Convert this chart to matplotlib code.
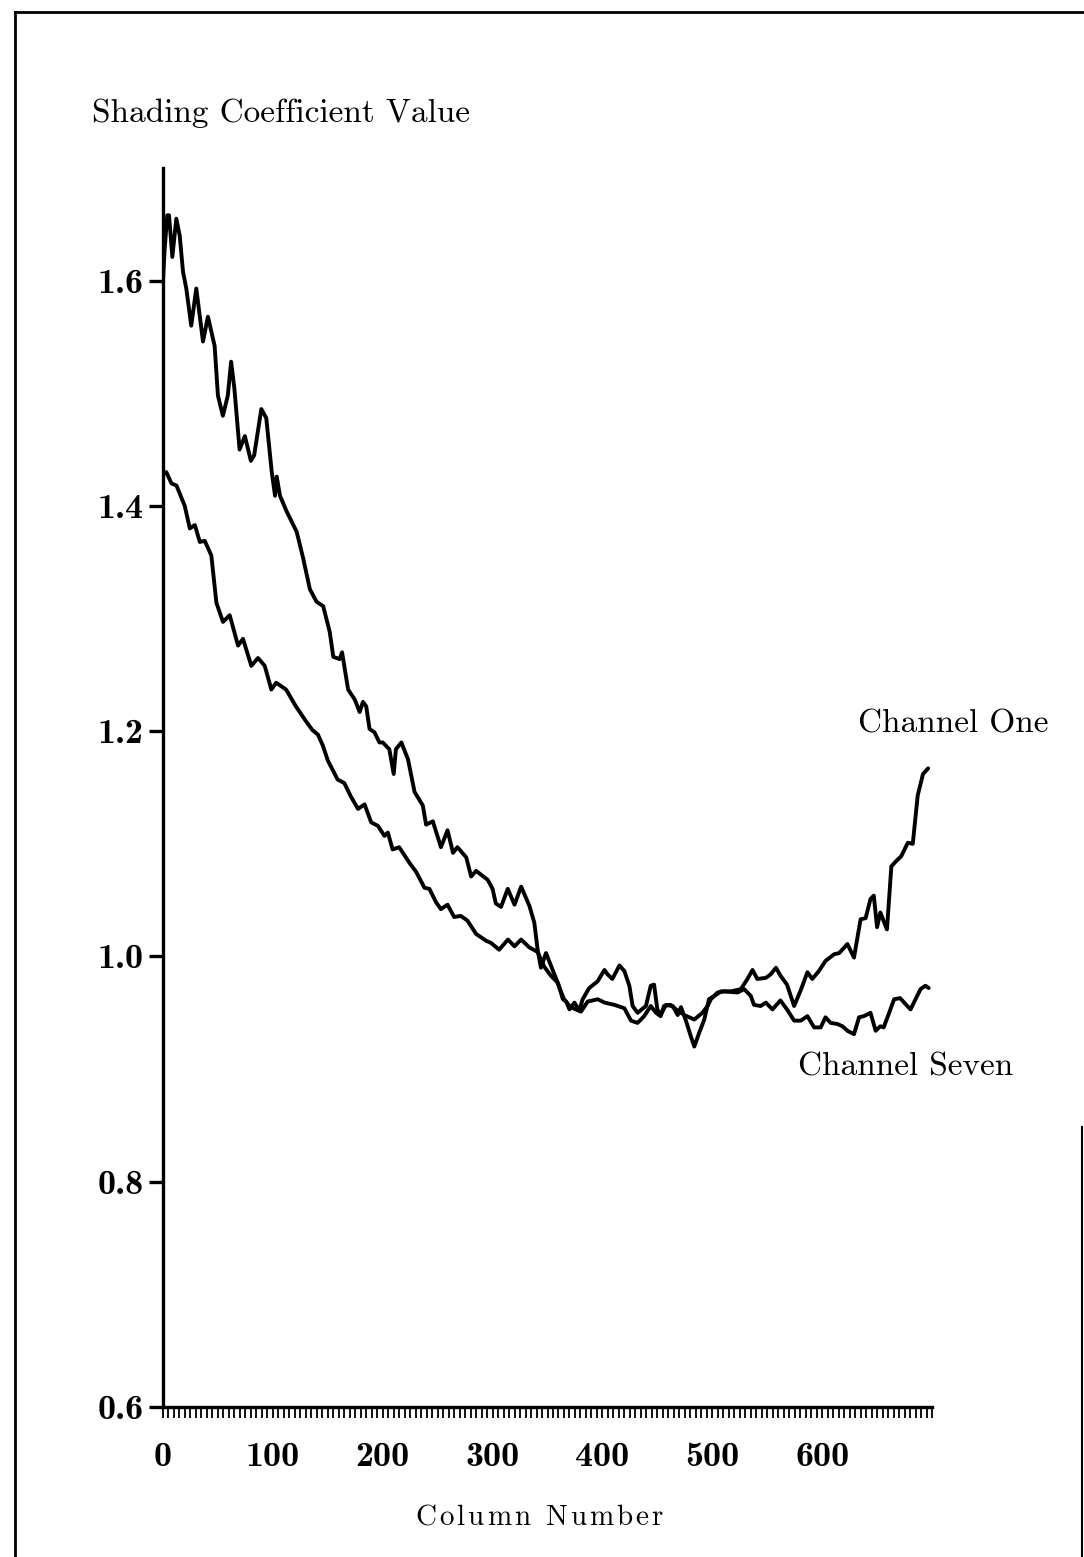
import matplotlib
matplotlib.use("Agg")
import matplotlib.pyplot as plt
from matplotlib.lines import Line2D
from matplotlib.ticker import MultipleLocator

plt.rcParams['font.family'] = ['cmr10', 'DejaVu Serif']
plt.rcParams['axes.unicode_minus'] = False
plt.rcParams['axes.formatter.use_mathtext'] = True

# values (column number, shading coefficient)
col_one = [0, 1.5, 3.9, 5.5, 8.5, 12.1, 15.2, 18.2, 21.2, 25.7, 30.3, 36.4, 40.9, 47, 50,
           54.5, 59, 62, 65, 69.7, 74.5, 80, 83, 89.5, 94, 99, 102, 103.5, 106.5, 112.6,
           121.7, 127.7, 133.7, 139.7, 145.8, 151.8, 155, 160.7, 163, 168.5, 174.6, 179,
           182, 185, 188, 192.5, 197, 200, 206, 210, 212, 217, 223, 229, 236.5, 239.5,
           245.6, 253, 259, 264, 268, 276, 280.5, 285, 295.6, 300, 303, 307.7, 313.8, 320,
           326, 333.5, 338, 341, 344, 348.6, 354.7, 360, 364, 367, 370, 374.5, 379, 382,
           388, 395.7, 401.8, 404.8, 409, 415.5, 420, 424.5, 427.5, 432, 439.6, 444, 447,
           450, 453, 457.8, 464, 468.5, 471.5, 476, 480.5, 483.6, 488, 492.7, 497, 501.8,
           508, 517, 526, 532, 536.6, 541, 548.7, 553, 558, 562, 568, 574.5, 580.5, 586.6,
           591, 597, 603, 611, 615.5, 623, 629, 635, 639.6, 644, 647, 650, 653, 659, 663,
           667.7, 672, 678, 682.5, 687, 691.8, 696.5]
val_one = [1.600, 1.628, 1.658, 1.658, 1.621, 1.655, 1.640, 1.608, 1.593, 1.560, 1.593,
           1.546, 1.568, 1.542, 1.498, 1.480, 1.498, 1.528, 1.504, 1.450, 1.462, 1.440,
           1.445, 1.486, 1.478, 1.430, 1.409, 1.426, 1.409, 1.395, 1.377, 1.353, 1.326,
           1.315, 1.311, 1.288, 1.266, 1.264, 1.270, 1.237, 1.228, 1.217, 1.226, 1.222,
           1.202, 1.199, 1.190, 1.190, 1.184, 1.162, 1.184, 1.190, 1.175, 1.146, 1.134,
           1.117, 1.120, 1.097, 1.112, 1.092, 1.097, 1.088, 1.071, 1.076, 1.068, 1.060,
           1.047, 1.044, 1.060, 1.046, 1.062, 1.045, 1.030, 1.006, 0.990, 1.003, 0.988,
           0.975, 0.962, 0.960, 0.953, 0.959, 0.952, 0.962, 0.972, 0.978, 0.988, 0.984,
           0.980, 0.992, 0.987, 0.974, 0.956, 0.950, 0.956, 0.974, 0.975, 0.953, 0.948,
           0.957, 0.956, 0.948, 0.955, 0.943, 0.929, 0.920, 0.932, 0.944, 0.962, 0.965,
           0.969, 0.969, 0.971, 0.980, 0.988, 0.980, 0.981, 0.984, 0.990, 0.983, 0.975,
           0.956, 0.970, 0.986, 0.980, 0.987, 0.996, 1.002, 1.003, 1.011, 0.999, 1.033,
           1.034, 1.051, 1.054, 1.026, 1.039, 1.024, 1.080, 1.085, 1.089, 1.101, 1.100,
           1.143, 1.162, 1.167]

col_seven = [0, 3, 7.7, 12.3, 19.8, 24.4, 29, 33.5, 38, 44, 48.6, 54.6, 60.7, 68.3, 72.8,
             80.4, 86.5, 92.6, 98.6, 103, 112, 121, 130, 136, 141, 145.6, 150, 159, 165,
             171, 177.5, 183.5, 189.5, 195.6, 201.6, 204.7, 209, 215, 224.4, 230.5, 238,
             242.5, 248.6, 253, 259, 265, 271, 277, 285, 294, 298.6, 306, 314, 320, 326,
             333.5, 341, 347, 353, 359, 365, 371, 380.5, 386.6, 395.7, 402, 411, 420, 426,
             432, 438, 444, 448.7, 453, 456, 462, 467, 471.5, 474.5, 483.6, 491, 495.7,
             498.7, 504.8, 511, 523, 529, 535, 538, 544, 548.7, 554.8, 562, 568, 574.5,
             580.5, 586.6, 592.7, 598.7, 603, 607.8, 614, 618.5, 623, 629, 633.6, 638, 644,
             648.7, 653, 656, 661, 665.5, 671, 677.5, 680.5, 685, 689.6, 694, 697]
val_seven = [1.428, 1.430, 1.420, 1.418, 1.400, 1.380, 1.383, 1.368, 1.369, 1.356, 1.314,
             1.297, 1.303, 1.276, 1.282, 1.258, 1.265, 1.258, 1.237, 1.243, 1.237, 1.222,
             1.209, 1.201, 1.197, 1.187, 1.174, 1.157, 1.154, 1.142, 1.131, 1.135, 1.119,
             1.116, 1.107, 1.110, 1.095, 1.097, 1.083, 1.075, 1.061, 1.060, 1.048, 1.042,
             1.046, 1.035, 1.036, 1.032, 1.020, 1.014, 1.012, 1.006, 1.015, 1.009, 1.015,
             1.008, 1.004, 0.991, 0.983, 0.977, 0.962, 0.955, 0.951, 0.960, 0.962, 0.959,
             0.957, 0.954, 0.943, 0.941, 0.947, 0.956, 0.950, 0.947, 0.956, 0.957, 0.953,
             0.950, 0.948, 0.944, 0.950, 0.956, 0.962, 0.968, 0.969, 0.968, 0.971, 0.965,
             0.957, 0.956, 0.959, 0.953, 0.961, 0.953, 0.943, 0.943, 0.947, 0.937, 0.937,
             0.946, 0.941, 0.940, 0.938, 0.934, 0.931, 0.946, 0.947, 0.950, 0.934, 0.938,
             0.937, 0.950, 0.962, 0.963, 0.956, 0.953, 0.962, 0.971, 0.974, 0.972]

x_ticks = [0, 100, 200, 300, 400, 500, 600]
y_ticks = [0.6, 0.8, 1.0, 1.2, 1.4, 1.6]

W, H = 1084, 1557
fig = plt.figure(figsize=(W / 100, H / 100), dpi=100)
ax = fig.add_axes([163 / W, 1 - 1407 / H, (932 - 163) / W, (1407 - 168) / H])

ax.plot(col_one, val_one, color='black', lw=2.8, solid_joinstyle='round',
        solid_capstyle='round')
ax.plot(col_seven, val_seven, color='black', lw=2.8, solid_joinstyle='round',
        solid_capstyle='round')

ax.set_xlim(0, 700)
ax.set_ylim(0.6, 1.70)
ax.spines['top'].set_visible(False)
ax.spines['right'].set_visible(False)
ax.spines['left'].set_linewidth(2.4)
ax.spines['bottom'].set_linewidth(2.4)

ax.set_xticks(x_ticks)
ax.set_xticklabels([str(v) for v in x_ticks])
ax.xaxis.set_minor_locator(MultipleLocator(5))
ax.set_yticks(y_ticks)
ax.set_yticklabels(["%.1f" % v for v in y_ticks])
ax.tick_params(axis='x', which='both', direction='out', length=8, width=1.3, pad=17)
ax.tick_params(axis='y', which='major', direction='out', length=10, width=2.4, pad=4)
for lab in ax.get_xticklabels() + ax.get_yticklabels():
    lab.set_fontfamily('cmb10')
    lab.set_fontsize(26)

fig.text(92 / W, 1 - 122 / H, "Shading Coefficient Value", fontsize=24, va='baseline')
fig.text(858 / W, 1 - 733 / H, "Channel One", fontsize=24, va='baseline')
fig.text(798 / W, 1 - 1075 / H, "Channel Seven", fontsize=24, va='baseline')

# letter-spaced axis caption
renderer = fig.canvas.get_renderer()
x = 415
for ch in "Column Number":
    if ch == " ":
        x += 12
        continue
    t = fig.text(x / W, 1 - 1525 / H, ch, fontsize=21, va='baseline')
    x += t.get_window_extent(renderer).width + 3

# scanned page frame
fig.add_artist(Line2D([15 / W, 15 / W], [0, 1 - 12 / H], transform=fig.transFigure,
                      color='black', lw=2))
fig.add_artist(Line2D([15 / W, 1], [1 - 12 / H, 1 - 12 / H], transform=fig.transFigure,
                      color='black', lw=2))
fig.add_artist(Line2D([1082 / W, 1082 / W], [0, 1 - 1127 / H], transform=fig.transFigure,
                      color='black', lw=1.5))

fig.savefig("out.png", dpi=100)
